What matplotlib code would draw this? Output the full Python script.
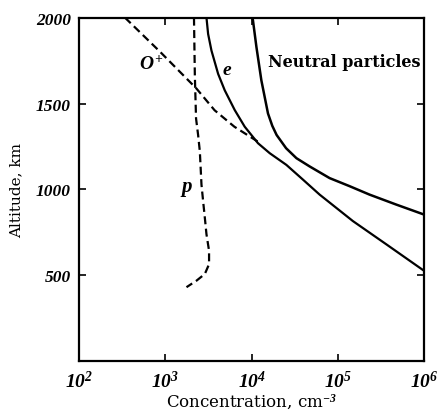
import numpy as np
import matplotlib.pyplot as plt

plt.rcParams['font.family'] = ['DejaVu Serif']
plt.rcParams['mathtext.fontset'] = 'custom'
plt.rcParams['mathtext.rm'] = 'Liberation Serif:italic:bold'
plt.rcParams['mathtext.it'] = 'Liberation Serif:italic:bold'

# log10 of concentration (cm^-3) against altitude (km)
oplus_logn = [2.53, 2.94, 3.36, 3.57, 3.80, 4.07]
oplus_alt = [2000, 1800, 1587, 1461, 1365, 1279]

e_logn = [3.476, 3.495, 3.534, 3.611, 3.688, 3.804, 3.920, 4.074, 4.210,
          4.403, 4.596, 4.789, 5.175, 5.562, 6.0]
e_alt = [2000, 1905, 1808, 1673, 1577, 1462, 1365, 1269, 1211,
         1143, 1057, 970, 816, 681, 527]

neutral_logn = [4.01, 4.016, 4.056, 4.113, 4.190, 4.24, 4.29, 4.40, 4.52, 4.673,
                4.905, 5.137, 5.368, 5.678, 6.0]
neutral_alt = [2000, 1982, 1828, 1635, 1442, 1370, 1317, 1240, 1182, 1134,
               1066, 1019, 970, 912, 854]

p_logn = [3.331, 3.341, 3.355, 3.379, 3.399, 3.418, 3.437, 3.457, 3.476,
          3.506, 3.506, 3.457, 3.360, 3.244]
p_alt = [2000, 1664, 1413, 1317, 1221, 1028, 932, 835, 739,
         643, 565, 508, 469, 431]

x_ticks = [1e2, 1e3, 1e4, 1e5, 1e6]
x_labels = ['$10^{2}$', '$10^{3}$', '$10^{4}$', '$10^{5}$', '$10^{6}$']
y_ticks = [500, 1000, 1500, 2000]

fig = plt.figure(figsize=(4.43, 4.14), dpi=100)
ax = fig.add_axes([0.179, 0.125, 0.778, 0.830])

dash = (0, (3.6, 2.0))
ax.plot(10 ** np.array(oplus_logn), oplus_alt, color='black', lw=1.6, linestyle=dash)
ax.plot(10 ** np.array(p_logn), p_alt, color='black', lw=1.6, linestyle=dash)
ax.plot(10 ** np.array(e_logn), e_alt, color='black', lw=1.6)
ax.plot(10 ** np.array(neutral_logn), neutral_alt, color='black', lw=1.8)

ax.set_xscale('log')
ax.set_xlim(1e2, 1e6)
ax.set_ylim(0, 2000)
ax.set_xticks(x_ticks)
ax.set_xticklabels(x_labels, fontsize=14)
ax.minorticks_off()
ax.set_yticks(y_ticks)
ax.set_yticklabels([str(v) for v in y_ticks], fontsize=12.5, style='italic',
                   weight='bold', family='Liberation Serif')
ax.tick_params(direction='in', length=5, width=1.2, top=True, right=True, pad=6)

for s in ax.spines.values():
    s.set_linewidth(1.6)

ax.set_xlabel('Concentration, cm$^{-3}$', fontsize=12, labelpad=1)
ax.set_ylabel('Altitude, km', fontsize=11, labelpad=9)

ax.text(10 ** 2.84, 1735, '$O^{+}$', fontsize=14, ha='center', va='center')
ax.text(10 ** 3.72, 1700, '$e$', fontsize=14, ha='center', va='center')
ax.text(10 ** 3.25, 1003, '$p$', fontsize=15, ha='center', va='center')
ax.text(10 ** 4.19, 1743, 'Neutral particles', fontsize=11.5, weight='bold',
        ha='left', va='center')

fig.savefig('out.png', dpi=100)
